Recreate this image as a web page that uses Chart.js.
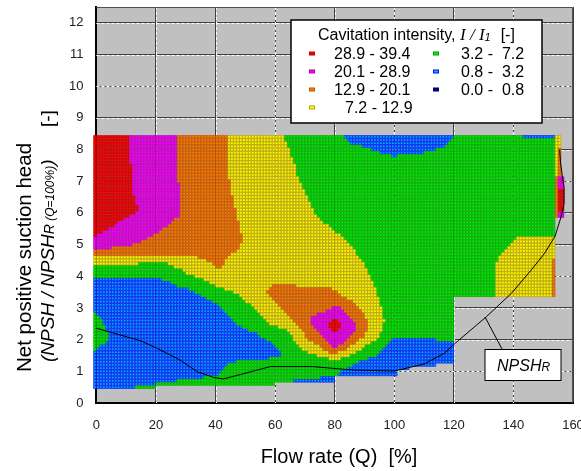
<!DOCTYPE html>
<html>
<head>
<meta charset="utf-8">
<title>Cavitation intensity map</title>
<script src="https://cdn.jsdelivr.net/npm/chart.js@4/dist/chart.umd.min.js"></script>
<style>
  html, body { margin: 0; padding: 0; background: #fff; }
  canvas { display: block; }
</style>
</head>
<body>
<canvas id="mapChart" width="581" height="471"></canvas>
<script>
// Levels, same order as the legend (first column, then second)
const levelKeys = ["r", "m", "o", "y", "g", "b", "n"];
const levelRanges = ["28.9 - 39.4", "20.1 - 28.9", "12.9 - 20.1", "7.2 - 12.9", "3.2 -  7.2", "0.8 -  3.2", "0.0 -  0.8"];
const levelFill = ["#ff0000", "#ff00ff", "#ff8000", "#ffff00", "#00f000", "#00b0ff", "#000090"];
const levelEdge = ["#b80000", "#b000b0", "#b85000", "#b8a000", "#00a000", "#0010f0", "#000060"];

const xTicks = [0, 20, 40, 60, 80, 100, 120, 140, 160];
const yTicks = [0, 1, 2, 3, 4, 5, 6, 7, 8, 9, 10, 11, 12];

// NPSH of each row of cells
const rowHeads = [8.4, 8.3, 8.2, 8.1, 8.0, 7.9, 7.8, 7.7, 7.6, 7.5, 7.4, 7.3, 7.2, 7.1, 7.0, 6.9, 6.8, 6.7, 6.6, 6.5,
  6.4, 6.3, 6.2, 6.1, 6.0, 5.9, 5.8, 5.7, 5.6, 5.5, 5.4, 5.3, 5.2, 5.1, 5.0, 4.9, 4.8, 4.7, 4.6, 4.5,
  4.4, 4.3, 4.2, 4.1, 4.0, 3.9, 3.8, 3.7, 3.6, 3.5, 3.4, 3.3, 3.2, 3.1, 3.0, 2.9, 2.8, 2.7, 2.6, 2.5,
  2.4, 2.3, 2.2, 2.1, 2.0, 1.9, 1.8, 1.7, 1.6, 1.5, 1.4, 1.3, 1.2, 1.1, 1.0, 0.9, 0.8, 0.7, 0.6, 0.5];

// One string per row: level letter + flow rate where that level stops (rows start at -1)
const cellRows = [
  "r11 m27 o44 y63 g83 b120 g143 b154 y156",
  "r11 m27 o44 y63 g84 b119 g154 y156",
  "r11 m27 o44 y64 g85 b118 g154 y156",
  "r11 m27 o44 y64 g89 b117 g154 y156",
  "r11 m27 o44 y65 g92 b114 g154 y155 o156",
  "r11 m27 o44 y65 g95 b110 g154 y155 o156",
  "r11 m27 o44 y65 g99 b101 g154 y155 o156",
  "r11 m27 o44 y66 g154 y155 o156",
  "r11 m27 o44 y66 g154 y155 o156",
  "r12 m27 o44 y67 g154 y155 o156",
  "r12 m27 o44 y67 g154 y155 o156",
  "r12 m27 o44 y67 g154 y155 o156",
  "r12 m27 o44 y67 g154 y155 o156",
  "r12 m27 o44 y68 g154 o155 m157",
  "r12 m27 o45 y68 g154 o155 m157",
  "r12 m28 o45 y69 g154 o155 m157",
  "r12 m28 o45 y69 g154 o155 m157",
  "r12 m28 o45 y70 g154 o155 r157",
  "r12 m28 o45 y70 g154 o155 r157",
  "r13 m28 o46 y71 g154 o155 r157",
  "r13 m28 o46 y71 g154 o155 r157",
  "r13 m28 o46 y72 g154 o155 r157",
  "r14 m28 o46 y72 g154 o155 r157",
  "r14 m28 o47 y73 g154 o155 r157",
  "r13 m28 o47 y73 g154 o155 m157",
  "r11 m28 o47 y74 g154 o155 m157",
  "r9 m26 o47 y75 g154",
  "r7 m25 o48 y76 g154",
  "r6 m24 o48 y78 g154",
  "r4 m22 o48 y79 g154",
  "r2 m21 o48 y80 g154",
  "r0 m19 o49 y82 g154",
  "m17 o49 y83 g141 y154",
  "m15 o49 y84 g140 y154",
  "m12 o48 y85 g139 y154",
  "m5 o48 y86 g138 y154",
  "o47 y87 g137 y154",
  "o45 y87 g136 y154",
  "y34 o44 y88 g135 y154",
  "y37 o43 y89 g135 y153 o154",
  "y14 g24 y39 o43 y90 g134 y153 o154",
  "g26 y40 o42 y90 g134 y153 o154",
  "g29 y91 g134 y153 o154",
  "g30 y91 g134 y153 o154",
  "g33 y92 g134 y153 o154",
  "b22 g36 y92 g134 y153 o154",
  "b25 g38 y93 g134 y153 o154",
  "b27 g40 y59 o67 y93 g134 y153 o154",
  "b31 g43 y58 o79 y94 g134 y153 o154",
  "b33 g46 y57 o81 y94 g134 y153 o154",
  "b35 g48 y58 o82 y94 g134 y153 o154",
  "b37 g49 y59 o84 y95 g120",
  "b39 g50 y60 o86 y95 g120",
  "b41 g52 y61 o87 y95 g120",
  "b42 g53 y62 o79 m82 o88 y96 g120",
  "b43 g54 y63 o77 m83 o89 y96 g120",
  "g0 b44 g55 y64 o74 m84 o90 y96 g120",
  "g1 b45 g56 y65 o72 m85 o90 y96 g120",
  "g2 b46 g57 y66 o72 m79 r81 m86 o91 y97 g120",
  "g2 b47 g58 y67 o72 m78 r82 m87 o91 y96 g120",
  "g3 b49 g61 y68 o73 m78 r82 m87 o91 y96 g120",
  "g3 b51 g64 y69 o74 m79 r81 m87 o91 y96 g120",
  "g4 b54 g65 y70 o75 m86 o90 y95 g120",
  "g4 b55 g66 y70 o76 m85 o90 y95 g120",
  "g4 b57 g66 y71 o77 m84 o88 y94 g99 b114 g120",
  "g3 b59 g67 y73 o78 m83 o87 y92 g98 b120",
  "g1 b60 g68 y75 o79 m81 o85 y90 g97 b120",
  "g0 b61 g69 y76 o84 y89 g96 b120",
  "b62 g71 y78 o81 y87 g95 b120",
  "b62 g74 y85 g94 b120",
  "b58 g78 y82 g91 b120",
  "b47 g88 b120",
  "b44 g86 b114",
  "b43 g84 b105",
  "b42 g82 b101",
  "b41 g81 b101",
  "b36 g75 b80",
  "b27 g66 b80",
  "b20 g60",
  "b13 g20"
];

// NPSHr curve
const curveFlow = [0, 14.7, 20.3, 28, 33.8, 39.3, 42.6, 48.4, 58.4, 72.5, 78.6, 86.5, 100, 110, 116.8, 120.5, 131, 139.3, 146, 150.5, 154, 156, 157, 157, 156.5, 155.8, 155.5];
const curveHead = [2.36, 1.97, 1.73, 1.36, 0.99, 0.81, 0.76, 0.9, 1.15, 1.15, 1.1, 1.04, 1.01, 1.23, 1.57, 1.89, 2.73, 3.46, 4.2, 4.73, 5.27, 5.88, 6.3, 6.8, 7.1, 7.6, 8.0];

// Split the row strings into one point list per level
function buildCells() {
  const cells = levelKeys.map(() => []);
  cellRows.forEach((row, r) => {
    let from = -1;
    row.split(" ").forEach(run => {
      const to = Number(run.slice(1));
      const lvl = levelKeys.indexOf(run[0]);
      for (let q = from; q < to; q++) {
        cells[lvl].push({ x: q + 0.5, y: rowHeads[r] });
      }
      from = to;
    });
  });
  return cells;
}

const SANS = '"Liberation Sans", Arial, sans-serif';
const SERIF = '"Liberation Serif", "Times New Roman", serif';

// Writes text pieces with different fonts one after the other
function drawRuns(ctx, x, y, runs) {
  runs.forEach(r => {
    ctx.font = r[1];
    ctx.fillText(r[0], x, y + (r[2] || 0));
    x += ctx.measureText(r[0]).width;
  });
  return x;
}

const mapPlugin = {
  id: "mapPlugin",
  beforeDraw(chart) {
    const a = chart.chartArea, ctx = chart.ctx;
    ctx.save();
    ctx.fillStyle = "#c0c0c0";
    ctx.fillRect(a.left, a.top, a.right - a.left, a.bottom - a.top);
    ctx.restore();
  },
  beforeDatasetsDraw(chart) {
    // white dashes over the dark grid lines
    const a = chart.chartArea, ctx = chart.ctx;
    ctx.save();
    ctx.strokeStyle = "#ffffff";
    ctx.lineWidth = 1;
    ctx.setLineDash([3, 2]);
    yTicks.slice(1).forEach(v => {
      const py = Math.round(chart.scales.y.getPixelForValue(v)) + 0.5;
      ctx.beginPath(); ctx.moveTo(a.left, py); ctx.lineTo(a.right, py); ctx.stroke();
    });
    xTicks.slice(1, -1).forEach(v => {
      const px = Math.round(chart.scales.x.getPixelForValue(v)) + 0.5;
      ctx.beginPath(); ctx.moveTo(px, a.top); ctx.lineTo(px, a.bottom); ctx.stroke();
    });
    ctx.restore();
  },
  afterDraw(chart) {
    const a = chart.chartArea, ctx = chart.ctx;
    ctx.save();

    // top and right frame
    ctx.strokeStyle = "#505050";
    ctx.lineWidth = 1;
    ctx.beginPath();
    ctx.moveTo(a.left, a.top + 0.5);
    ctx.lineTo(a.right - 0.5, a.top + 0.5);
    ctx.lineTo(a.right - 0.5, a.bottom);
    ctx.stroke();

    ctx.fillStyle = "#000";
    ctx.textBaseline = "alphabetic";

    // x title
    ctx.font = "20px " + SANS;
    ctx.textAlign = "center";
    ctx.fillText("Flow rate (Q)  [%]", 339, 463);
    ctx.textAlign = "left";

    // y title, two lines
    ctx.save();
    ctx.translate(31, 372);
    ctx.rotate(-Math.PI / 2);
    ctx.font = "20.5px " + SANS;
    ctx.fillText("Net positive suction head", 0, 0);
    ctx.restore();

    ctx.save();
    ctx.translate(54, 362);
    ctx.rotate(-Math.PI / 2);
    drawRuns(ctx, 0, 0, [
      ["(NPSH / NPSH", "italic 19px " + SANS],
      ["R", "italic 14px " + SANS],
      [" (Q=100%)", "italic 12px " + SANS],
      [")", "italic 19px " + SANS]
    ]);
    ctx.font = "19px " + SANS;
    ctx.fillText("[-]", 235, 0);
    ctx.restore();

    // legend box
    ctx.fillStyle = "#fff";
    ctx.fillRect(291, 20, 251, 103);
    ctx.strokeStyle = "#000";
    ctx.lineWidth = 1.5;
    ctx.strokeRect(291, 20, 251, 103);
    ctx.fillStyle = "#000";
    const afterTitle = drawRuns(ctx, 318, 40, [
      ["Cavitation intensity, ", "16px " + SANS],
      ["I / I", "italic 17px " + SERIF],
      ["1", "italic 11px " + SANS, 1]
    ]);
    ctx.font = "16px " + SANS;
    ctx.fillText("[-]", afterTitle + 10, 40);

    const rowY = [54, 72, 90, 108, 54, 72, 90];
    levelRanges.forEach((label, i) => {
      const second = i > 3;
      ctx.fillStyle = levelFill[i];
      ctx.strokeStyle = levelEdge[i];
      ctx.lineWidth = 1;
      ctx.fillRect(second ? 433.5 : 309.5, rowY[i] - 2, 5, 3);
      ctx.strokeRect(second ? 433.5 : 309.5, rowY[i] - 2, 5, 3);
      ctx.fillStyle = "#000";
      ctx.font = "16px " + SANS;
      ctx.fillText(label, second ? 461 : (i === 3 ? 345 : 334), rowY[i] + 5);
    });

    // NPSHr callout
    ctx.strokeStyle = "#000";
    ctx.lineWidth = 1;
    ctx.beginPath();
    ctx.moveTo(485, 317);
    ctx.lineTo(502, 349);
    ctx.stroke();
    ctx.fillStyle = "#fff";
    ctx.fillRect(485, 349.5, 76, 31);
    ctx.strokeRect(485, 349.5, 76, 31);
    ctx.fillStyle = "#000";
    drawRuns(ctx, 497, 371, [
      ["NPSH", "italic 16px " + SANS],
      ["R", "italic 12px " + SANS]
    ]);
    ctx.restore();
  }
};

const cellSets = buildCells().map((pts, i) => ({
  label: levelRanges[i],
  data: pts,
  showLine: false,
  pointStyle: "rect",
  pointRadius: 1.85,
  pointBorderWidth: 0.7,
  pointBackgroundColor: levelFill[i],
  pointBorderColor: levelEdge[i],
  clip: false,
  order: 2
}));

new Chart(document.getElementById("mapChart"), {
  type: "scatter",
  data: {
    datasets: [{
      label: "NPSHr",
      data: curveFlow.map((q, i) => ({ x: q, y: curveHead[i] })),
      showLine: true,
      borderColor: "#000",
      borderWidth: 1,
      pointRadius: 0,
      tension: 0,
      clip: false,
      order: 1
    }].concat(cellSets)
  },
  options: {
    responsive: false,
    animation: false,
    events: [],
    layout: { padding: { left: 0, right: 8, top: 7, bottom: 0 } },
    plugins: { legend: { display: false }, tooltip: { enabled: false } },
    scales: {
      x: {
        type: "linear",
        min: 0,
        max: 160,
        afterFit(s) { s.height = 68; s.paddingLeft = 0; s.paddingRight = 0; },
        afterBuildTicks(s) { s.ticks = xTicks.map(v => ({ value: v })); },
        grid: { color: "#404040", drawTicks: false },
        border: { color: "#000", width: 2 },
        ticks: { autoSkip: false, maxRotation: 0, padding: 15, color: "#222", font: { family: SANS, size: 13 } }
      },
      y: {
        type: "linear",
        min: 0,
        max: 12.5,
        afterFit(s) { s.width = 96.4; s.paddingTop = 0; s.paddingBottom = 0; },
        afterBuildTicks(s) { s.ticks = yTicks.map(v => ({ value: v })); },
        grid: { color: "#404040", drawTicks: false },
        border: { color: "#000", width: 2 },
        ticks: { autoSkip: false, padding: 13, color: "#222", font: { family: SANS, size: 13 } }
      }
    }
  },
  plugins: [mapPlugin]
});
</script>
</body>
</html>
